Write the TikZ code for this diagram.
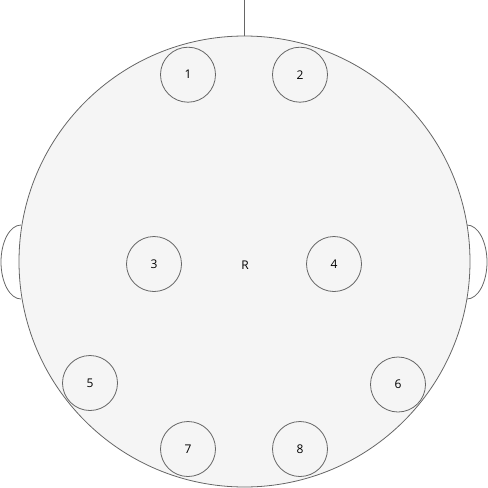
\documentclass[tikz,border=0pt]{standalone}
\usepackage{fontspec}
\setmainfont{Open Sans}
\definecolor{strokegray}{HTML}{666666}
\definecolor{fillgray}{HTML}{F5F5F5}
\begin{document}
\begin{tikzpicture}[x=1pt,y=-1pt,
  head/.style={draw=strokegray,fill=fillgray,line width=0.8pt},
  electrode/.style={circle,draw=strokegray,fill=fillgray,line width=0.8pt,minimum size=55pt,inner sep=0pt,font=\fontsize{12}{14}\selectfont},
  lbl/.style={font=\fontsize{12}{14}\selectfont,inner sep=0pt},
  ear/.style={draw=strokegray,line width=0.8pt}]
\useasboundingbox (0,0) rectangle (488,488);
\coordinate (nosetop) at (244.5,0);
\coordinate (noseend) at (244.5,36);
\draw[ear] (21,225) arc[start angle=270,end angle=90,x radius=20,y radius=37];
\draw[ear] (467,225) arc[start angle=270,end angle=450,x radius=20,y radius=37];
\draw[head] (244.5,261.5) circle[radius=225.5];
\draw[ear] (nosetop) -- (noseend);
\node[electrode] (e1) at (188,74.7) {1};
\node[electrode] (e2) at (300,74.7) {2};
\node[electrode] (e3) at (154,264) {3};
\node[electrode] (e4) at (334,264) {4};
\node[electrode] (e5) at (90,383) {5};
\node[electrode] (e6) at (398,384.5) {6};
\node[electrode] (e7) at (188,449) {7};
\node[electrode] (e8) at (300,449) {8};
\node[lbl] (R) at (245,265) {R};
\end{tikzpicture}
\end{document}
